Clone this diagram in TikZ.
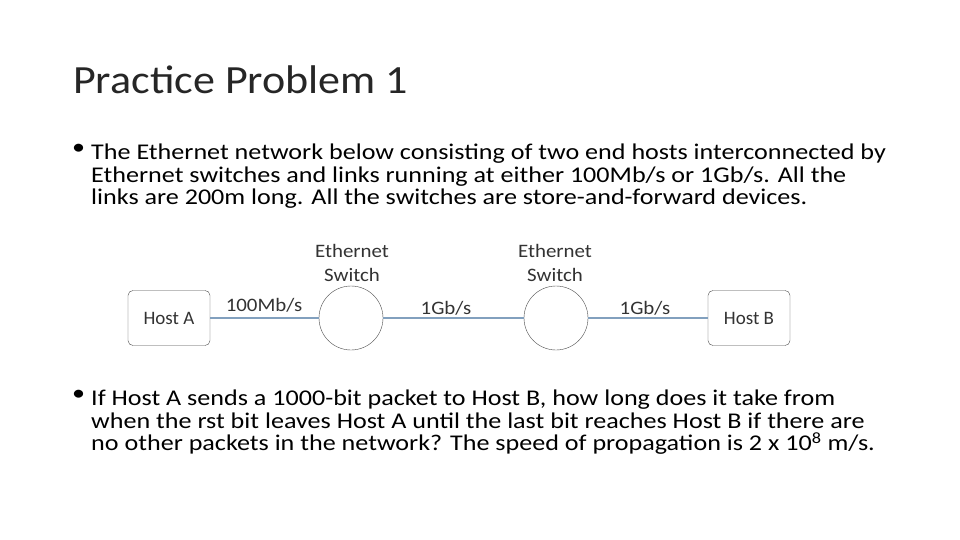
\documentclass[tikz,border=0pt]{standalone}
\usepackage{fontspec}
\setmainfont{Carlito}
\begin{document}
\begin{tikzpicture}[x=1pt,y=-1pt,
 host/.style={draw=black!70,rounded corners=5pt,minimum width=82pt,minimum height=55pt,font=\fontsize{19}{22}\selectfont,text=black!80},
 sw/.style={draw=black!70,circle,minimum size=64pt},
 lab/.style={font=\fontsize{19}{24}\selectfont,text=black!80,xscale=1.1},
 link/.style={draw={rgb,255:red,130;green,160;blue,190},line width=1.8pt},
 body/.style={anchor=north west,align=left,font=\fontsize{22.5}{22.5}\selectfont,inner sep=0pt,xscale=1.16}]
\useasboundingbox (0,0) rectangle (960,540);
\fill[white] (0,0) rectangle (960,540);
\node[anchor=west,inner sep=0pt,font=\fontsize{40}{44}\selectfont,text=black!85,xscale=1.1] (title) at (73,80) {Practice Problem 1};
\node[body] (b1) at (72,144) {\textbullet};
\node[body] (t1) at (91,144) {The Ethernet network below consisting of two end hosts interconnected by\\Ethernet switches and links running at either 100Mb/s or 1Gb/s. All the\\links are 200m long. All the switches are store-and-forward devices.};
\node[body] (b2) at (72,390) {\textbullet};
\node[body] (t2) at (91,390) {If Host A sends a 1000-bit packet to Host B, how long does it take from\\when the rst bit leaves Host A until the last bit reaches Host B if there are\\no other packets in the network? The speed of propagation is 2 x 10\textsuperscript{8} m/s.};
\node[host] (ha) at (169,318) {Host A};
\node[sw] (s1) at (351,318) {};
\node[sw] (s2) at (556,318) {};
\node[host] (hb) at (749,318) {Host B};
\draw[link] (ha) -- (s1);
\draw[link] (s1) -- (s2);
\draw[link] (s2) -- (hb);
\node[lab,align=center] (l1) at (352,263) {Ethernet\\Switch};
\node[lab,align=center] (l2) at (555,263) {Ethernet\\Switch};
\node[lab] (r1) at (264,305) {100Mb/s};
\node[lab] (r2) at (446,308) {1Gb/s};
\node[lab] (r3) at (645,308) {1Gb/s};
\end{tikzpicture}
\end{document}
